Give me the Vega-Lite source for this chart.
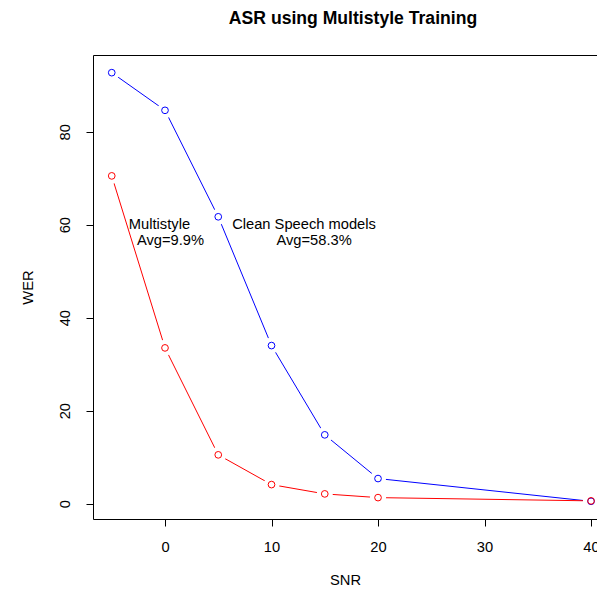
{
  "$schema": "https://vega.github.io/schema/vega-lite/v6.json",
  "width": 504,
  "height": 464,
  "autosize": {"type": "none"},
  "padding": {"left": 93, "top": 55, "right": 0, "bottom": 70},
  "background": "white",
  "config": {
    "view": {"stroke": null},
    "font": "Liberation Sans",
    "axis": {"grid": false, "domainColor": "black", "tickColor": "black", "labelColor": "black", "titleColor": "black", "labelFont": "Liberation Sans", "titleFont": "Liberation Sans", "labelFontSize": 14.7, "titleFontSize": 14.7, "titleFontWeight": "normal", "tickSize": 7, "domainWidth": 1, "tickWidth": 1}
  },
  "title": {"text": "ASR using Multistyle Training", "font": "Liberation Sans", "fontSize": 17.6, "fontWeight": "bold", "color": "black", "dx": 8, "offset": 13, "baseline": "alphabetic"},
  "datasets": {
    "wer": [
      {"snr": -5, "wer": 92.7, "model": "Clean Speech models"},
      {"snr": 0, "wer": 84.6, "model": "Clean Speech models"},
      {"snr": 5, "wer": 61.7, "model": "Clean Speech models"},
      {"snr": 10, "wer": 34.0, "model": "Clean Speech models"},
      {"snr": 15, "wer": 14.8, "model": "Clean Speech models"},
      {"snr": 20, "wer": 5.4, "model": "Clean Speech models"},
      {"snr": 40, "wer": 0.5, "model": "Clean Speech models"},
      {"snr": -5, "wer": 70.5, "model": "Multistyle"},
      {"snr": 0, "wer": 33.5, "model": "Multistyle"},
      {"snr": 5, "wer": 10.5, "model": "Multistyle"},
      {"snr": 10, "wer": 4.1, "model": "Multistyle"},
      {"snr": 15, "wer": 2.1, "model": "Multistyle"},
      {"snr": 20, "wer": 1.3, "model": "Multistyle"},
      {"snr": 40, "wer": 0.6, "model": "Multistyle"}
    ],
    "labels": [
      {"snr": -0.52, "wer": 59.9, "label": "Multistyle"},
      {"snr": 0.52, "wer": 56.5, "label": "Avg=9.9%"},
      {"snr": 13.05, "wer": 59.9, "label": "Clean Speech models"},
      {"snr": 14.0, "wer": 56.5, "label": "Avg=58.3%"}
    ]
  },
  "resolve": {"axis": {"x": "independent"}},
  "layer": [
    {
      "data": {"name": "wer"},
      "mark": {"type": "line", "strokeWidth": 1},
      "encoding": {
        "x": {"field": "snr", "type": "quantitative", "scale": {"domain": [-6.76, 40.56], "nice": false, "zero": false}, "axis": {"values": [0, 10, 20, 30, 40], "title": "SNR", "labelPadding": 13, "titlePadding": 19, "domain": true}},
        "y": {"field": "wer", "type": "quantitative", "scale": {"domain": [-3.3, 96.5], "nice": false, "zero": false}, "axis": {"values": [0, 20, 40, 60, 80], "title": "WER", "labelAngle": -90, "labelAlign": "center", "labelBaseline": "bottom", "labelPadding": 14, "titlePadding": 22}},
        "color": {"field": "model", "type": "nominal", "scale": {"domain": ["Clean Speech models", "Multistyle"], "range": ["#0000FF", "#FF0000"]}, "legend": null}
      }
    },
    {
      "data": {"name": "wer"},
      "mark": {"type": "circle", "size": 260, "color": "white", "opacity": 1},
      "encoding": {
        "x": {"field": "snr", "type": "quantitative", "axis": {"orient": "top", "labels": false, "ticks": false, "title": null, "domain": true}},
        "y": {"field": "wer", "type": "quantitative"}
      }
    },
    {
      "data": {"name": "wer"},
      "mark": {"type": "point", "shape": "circle", "filled": false, "size": 45, "strokeWidth": 1, "opacity": 1},
      "encoding": {
        "x": {"field": "snr", "type": "quantitative", "axis": null},
        "y": {"field": "wer", "type": "quantitative"},
        "color": {"field": "model", "type": "nominal", "legend": null}
      }
    },
    {
      "data": {"name": "labels"},
      "mark": {"type": "text", "font": "Liberation Sans", "fontSize": 14.7, "color": "black", "align": "center", "baseline": "middle"},
      "encoding": {
        "x": {"field": "snr", "type": "quantitative", "axis": null},
        "y": {"field": "wer", "type": "quantitative"},
        "text": {"field": "label"}
      }
    }
  ]
}
